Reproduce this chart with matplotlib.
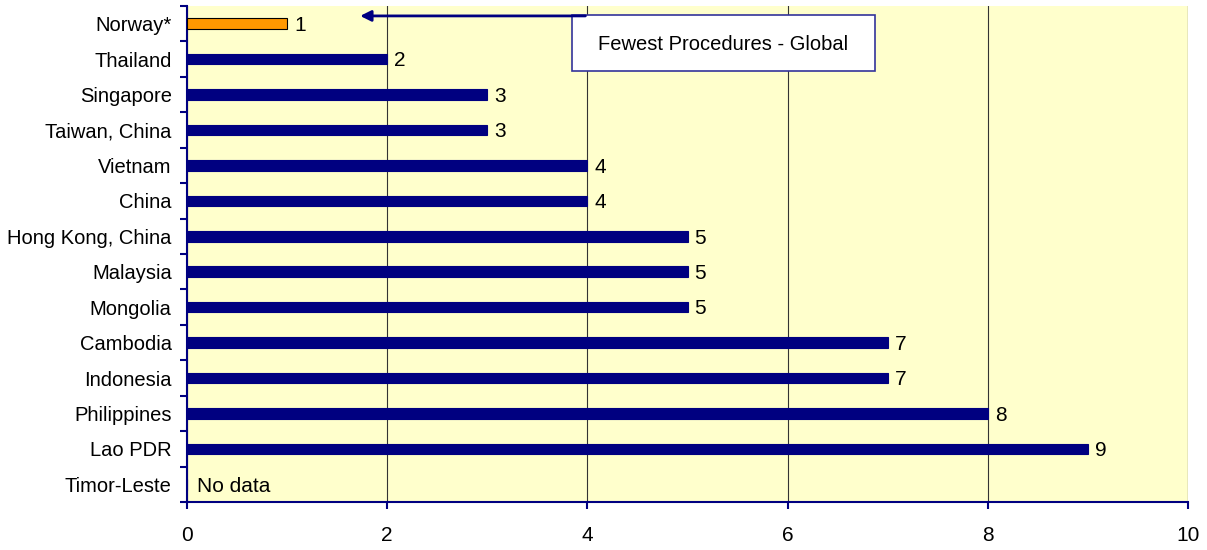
import numpy as np
import matplotlib.pyplot as plt
from matplotlib.patches import Rectangle

countries = ["Norway*", "Thailand", "Singapore", "Taiwan, China", "Vietnam", "China",
             "Hong Kong, China", "Malaysia", "Mongolia", "Cambodia", "Indonesia",
             "Philippines", "Lao PDR", "Timor-Leste"]
procedures = [1, 2, 3, 3, 4, 4, 5, 5, 5, 7, 7, 8, 9, np.nan]
colors = ["#FF9900"] + ["#000080"] * 13

plt.rcParams['font.family'] = ['Liberation Sans', 'DejaVu Sans']

fig = plt.figure(figsize=(12.07, 5.5), dpi=100)
ax = fig.add_axes([187/1207, 1 - 502/550, (1188 - 187)/1207, (502 - 6)/550])
ax.set_facecolor("#FFFFCC")

y = np.arange(len(countries))
vals = np.nan_to_num(procedures)
ax.barh(y, vals, height=0.3, color=colors, edgecolor=["black"] + ["#000080"] * 13, linewidth=0.8, zorder=3)

for yi, v in zip(y, procedures):
    if np.isnan(v):
        ax.text(0.1, yi + 0.05, "No data", va="center", ha="left", fontsize=15)
    else:
        ax.text(v + 0.07, yi + 0.05, f"{int(v)}", va="center", ha="left", fontsize=15)

ax.set_xlim(0, 10)
ax.set_ylim(len(countries) - 0.5, -0.5)
ax.set_xticks(range(0, 11, 2))
ax.set_yticks(y)
ax.set_yticklabels(countries, fontsize=14.5)
ax.set_yticks(np.arange(-0.5, len(countries), 1), minor=True)
ax.tick_params(axis="y", which="major", length=0, pad=11)
ax.tick_params(axis="y", which="minor", length=5, color="#000080", width=1.5, direction="out")
ax.tick_params(axis="x", length=5, color="#000080", width=1.5, labelsize=15, pad=12)
ax.grid(axis="x", color="#333333", linewidth=0.8, zorder=1)

for s in ["top", "right"]:
    ax.spines[s].set_visible(False)
for s in ["left", "bottom"]:
    ax.spines[s].set_color("#000080")
    ax.spines[s].set_linewidth(1.5)
ax.axvline(10, color="#333333", linewidth=0.8, zorder=1)

# annotation arrow and box
ax.add_patch(Rectangle((3.85, -0.25), 3.02, 1.59, facecolor="white", edgecolor="#33339A",
                       linewidth=1.2, zorder=4))
ax.annotate("", xy=(1.73, -0.22), xytext=(3.98, -0.22),
            arrowprops=dict(arrowstyle="-|>", color="#000080", lw=2, mutation_scale=16,
                            shrinkA=0, shrinkB=0), zorder=5)
ax.text(5.36, 0.58, "Fewest Procedures - Global", ha="center", va="center", fontsize=14.5, zorder=6)

fig.savefig("out.png", dpi=100)
